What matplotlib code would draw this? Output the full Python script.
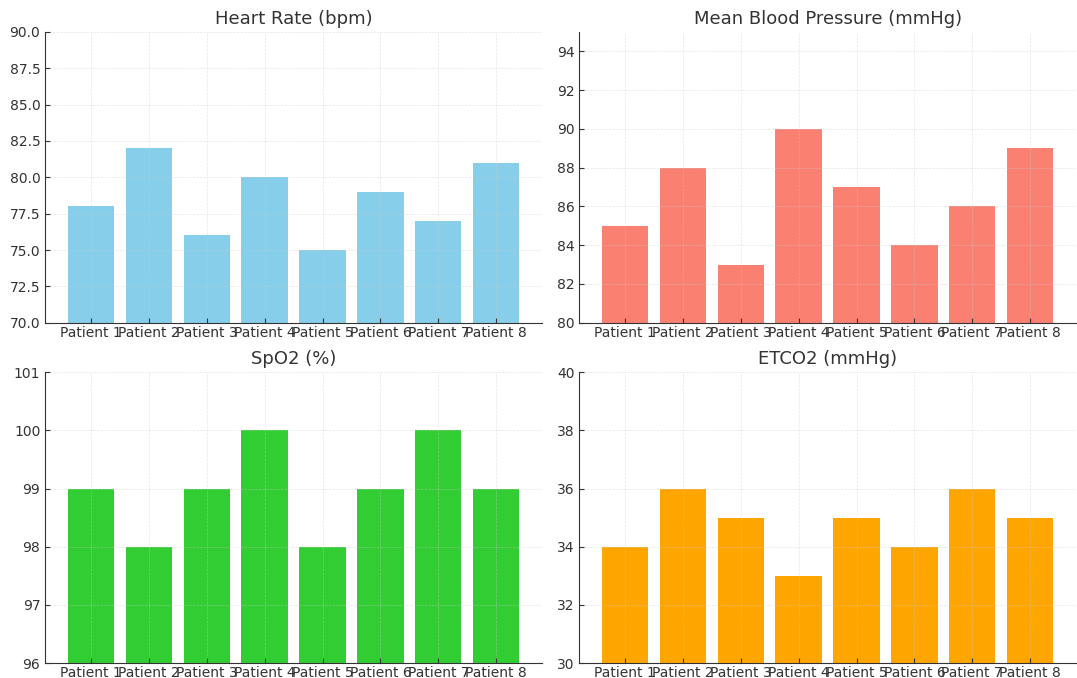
"""Vital signs per patient: four bar panels."""

import matplotlib
matplotlib.use("Agg")
import matplotlib.pyplot as plt

patients = [f"Patient {i}" for i in range(1, 9)]
heart_rate = [78, 82, 76, 80, 75, 79, 77, 81]
mean_bp = [85, 88, 83, 90, 87, 84, 86, 89]
spo2 = [99, 98, 99, 100, 98, 99, 100, 99]
etco2 = [34, 36, 35, 33, 35, 34, 36, 35]

panels = [
    ("Heart Rate (bpm)", heart_rate, "skyblue", (70, 90)),
    ("Mean Blood Pressure (mmHg)", mean_bp, "salmon", (80, 95)),
    ("SpO2 (%)", spo2, "limegreen", (96, 101)),
    ("ETCO2 (mmHg)", etco2, "orange", (30, 40)),
]

fig, axes = plt.subplots(2, 2, figsize=(10.77, 6.78), dpi=100)
fig.subplots_adjust(left=0.042, right=0.999, top=0.953, bottom=0.022,
                    wspace=0.075, hspace=0.17)

for ax, (title, values, color, ylim) in zip(axes.flat, panels):
    ax.bar(patients, values, color=color, width=0.8)
    ax.set_ylim(*ylim)
    ax.set_title(title, fontsize=13, color="#333333")
    ax.grid(True, linestyle="--", linewidth=0.5, color="#cccccc", alpha=0.5)
    for side in ("top", "right"):
        ax.spines[side].set_visible(False)
    for side in ("left", "bottom"):
        ax.spines[side].set_color("#333333")
    ax.tick_params(direction="in", labelsize=10, colors="#333333")
    ax.tick_params(axis="x", pad=2)

fig.savefig("out.png")
